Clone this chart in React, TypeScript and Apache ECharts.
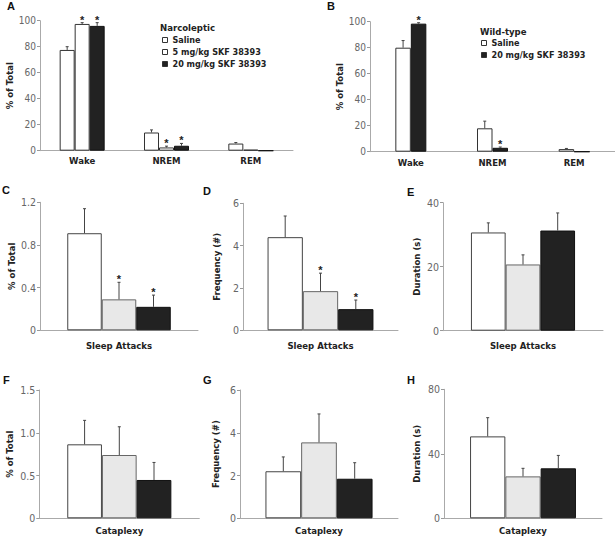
import React, { useEffect, useRef } from 'react';
import * as echarts from 'echarts';

const NARROW = '"Liberation Sans Narrow", "DejaVu Sans Condensed", "Arial Narrow", sans-serif';
const WIDE = '"Liberation Sans", Arial, sans-serif';

// ---------- Data ----------
const stateCategories = ['Wake', 'NREM', 'REM'];
const groupNames = ['Saline', '5 mg/kg SKF 38393', '20 mg/kg SKF 38393'];

// Panel A: narcoleptic
const narcSaline = [77.5, 14, 5.5];
const narcSalineErr = [2.5, 2, 0.8];
const narcSalineStar = [0, 0, 0];
const narc5 = [97.5, 2.5, 0.8];
const narc5Err = [1, 1, 0];
const narc5Star = [1, 1, 0];
const narc20 = [96, 3.8, 0];
const narc20Err = [2.5, 1.8, 0];
const narc20Star = [1, 1, 0];

// Panel B: wild-type
const wtSaline = [80, 18, 2];
const wtSalineErr = [5.5, 5.5, 0.5];
const wtSalineStar = [0, 0, 0];
const wt20 = [98.5, 3, 0];
const wt20Err = [0.7, 0.6, 0];
const wt20Star = [1, 1, 0];

const attackCategory = ['Sleep Attacks'];
const cataplexyCategory = ['Cataplexy'];

// Panels C-H: [saline, 5 mg/kg, 20 mg/kg]
const attackPercent = [0.91, 0.29, 0.22];
const attackPercentErr = [0.23, 0.16, 0.11];
const attackPercentStar = [0, 1, 1];
const attackFreq = [4.4, 1.85, 1.0];
const attackFreqErr = [1.0, 0.85, 0.43];
const attackFreqStar = [0, 1, 1];
const attackDur = [30.7, 20.7, 31.3];
const attackDurErr = [3, 3, 5.5];
const attackDurStar = [0, 0, 0];
const cataPercent = [0.865, 0.74, 0.448];
const cataPercentErr = [0.28, 0.33, 0.205];
const cataPercentStar = [0, 0, 0];
const cataFreq = [2.2, 3.55, 1.85];
const cataFreqErr = [0.67, 1.33, 0.75];
const cataFreqStar = [0, 0, 0];
const cataDur = [50.8, 26, 31];
const cataDurErr = [11.6, 5, 8];
const cataDurStar = [0, 0, 0];

// ---------- Styles ----------
const whiteStyle = { color: '#ffffff', borderColor: '#444', borderWidth: 1 };
const grayStyle = { color: '#e8e8e8', borderColor: '#666', borderWidth: 1 };
const blackStyle = { color: '#222222', borderColor: '#111', borderWidth: 1 };

type Group = { name: string; values: number[]; errs: number[]; stars: number[]; style: any };
type Panel = {
  grid: { left: number; top: number; width: number; height: number };
  cats: string[];
  max: number;
  interval: number;
  yName: string;
  nameGap: number;
  labelMargin: number;
  barWidth: number;
  groups: Group[];
  fmt?: (v: number) => string;
  tickSize: number;
};

export default function App() {
  const ref = useRef<HTMLDivElement>(null);

  useEffect(() => {
    if (!ref.current) return;
    const chart = echarts.init(ref.current, undefined, { renderer: 'svg' });

    const single = (prefix: string, vals: number[][], errs: number[][], stars: number[][]): Group[] =>
      [whiteStyle, grayStyle, blackStyle].map((st, i) => ({
        name: prefix + ' ' + groupNames[i],
        values: [vals[0][i]],
        errs: [errs[0][i]],
        stars: [stars[0][i]],
        style: st,
      }));

    const panels: Panel[] = [
      {
        grid: { left: 40, top: 20.7, width: 253, height: 130 },
        cats: stateCategories, max: 100, interval: 20, yName: '% of Total', nameGap: 21,
        labelMargin: 5, barWidth: 15, tickSize: 10,
        groups: [
          { name: groupNames[0], values: narcSaline, errs: narcSalineErr, stars: narcSalineStar, style: { ...whiteStyle, borderColor: '#333' } },
          { name: groupNames[1], values: narc5, errs: narc5Err, stars: narc5Star, style: { ...whiteStyle, borderColor: '#333' } },
          { name: groupNames[2], values: narc20, errs: narc20Err, stars: narc20Star, style: blackStyle },
        ],
      },
      {
        grid: { left: 370, top: 21.7, width: 252, height: 130 },
        cats: stateCategories, max: 100, interval: 20, yName: '% of Total', nameGap: 22,
        labelMargin: 6, barWidth: 15.5, tickSize: 10,
        groups: [
          { name: groupNames[0], values: wtSaline, errs: wtSalineErr, stars: wtSalineStar, style: { ...whiteStyle, borderColor: '#333' } },
          { name: groupNames[2], values: wt20, errs: wt20Err, stars: wt20Star, style: blackStyle },
        ],
      },
      {
        grid: { left: 40, top: 202.3, width: 158, height: 128 },
        cats: attackCategory, max: 1.2, interval: 0.4, yName: '% of Total', nameGap: 24,
        labelMargin: 10, barWidth: 34.5, tickSize: 10.5,
        fmt: (v) => (v === 0 ? '0' : v.toFixed(1)),
        groups: single('C', [attackPercent], [attackPercentErr], [attackPercentStar]),
      },
      {
        grid: { left: 243, top: 203.3, width: 155, height: 127 },
        cats: attackCategory, max: 6, interval: 2, yName: 'Frequency (#)', nameGap: 22,
        labelMargin: 10, barWidth: 35.3, tickSize: 10.5,
        groups: single('D', [attackFreq], [attackFreqErr], [attackFreqStar]),
      },
      {
        grid: { left: 443, top: 202.7, width: 160, height: 128 },
        cats: attackCategory, max: 40, interval: 20, yName: 'Duration (s)', nameGap: 22,
        labelMargin: 10, barWidth: 34.7, tickSize: 10.5,
        groups: single('E', [attackDur], [attackDurErr], [attackDurStar]),
      },
      {
        grid: { left: 39.3, top: 390, width: 160, height: 128.3 },
        cats: cataplexyCategory, max: 1.5, interval: 0.5, yName: '% of Total', nameGap: 25,
        labelMargin: 7, barWidth: 34.7, tickSize: 10.5,
        fmt: (v) => (v === 0 ? '0' : v.toFixed(1)),
        groups: single('F', [cataPercent], [cataPercentErr], [cataPercentStar]),
      },
      {
        grid: { left: 240, top: 390, width: 158, height: 128.3 },
        cats: cataplexyCategory, max: 6, interval: 2, yName: 'Frequency (#)', nameGap: 20,
        labelMargin: 7, barWidth: 35.7, tickSize: 10.5,
        groups: single('G', [cataFreq], [cataFreqErr], [cataFreqStar]),
      },
      {
        grid: { left: 444, top: 389.3, width: 158, height: 129 },
        cats: cataplexyCategory, max: 80, interval: 40, yName: 'Duration (s)', nameGap: 23,
        labelMargin: 7, barWidth: 35.3, tickSize: 10.5,
        groups: single('H', [cataDur], [cataDurErr], [cataDurStar]),
      },
    ];

    const grid: any[] = [];
    const xAxis: any[] = [];
    const yAxis: any[] = [];
    const series: any[] = [];

    panels.forEach((p, gi) => {
      grid.push({ ...p.grid, containLabel: false });
      xAxis.push({
        type: 'category',
        gridIndex: gi,
        data: p.cats,
        axisLine: { show: true, lineStyle: { color: '#aaaaaa', width: 1 } },
        axisTick: { show: false },
        axisLabel: {
          margin: p.labelMargin,
          fontFamily: NARROW,
          fontWeight: 'bold',
          fontSize: 9.5,
          color: '#222',
        },
        splitLine: { show: false },
      });
      yAxis.push({
        type: 'value',
        gridIndex: gi,
        min: 0,
        max: p.max,
        interval: p.interval,
        name: p.yName,
        nameLocation: 'middle',
        nameRotate: 90,
        nameGap: p.nameGap,
        nameTextStyle: { fontFamily: NARROW, fontWeight: 'bold', fontSize: 9.5, color: '#222' },
        axisLine: { show: true, lineStyle: { color: '#aaaaaa', width: 1 } },
        axisTick: { show: true, length: 3, lineStyle: { color: '#999999' } },
        axisLabel: {
          margin: 4,
          fontFamily: NARROW,
          fontSize: p.tickSize,
          color: '#666',
          formatter: p.fmt ? p.fmt : undefined,
        },
        splitLine: { show: false },
      });
      const n = p.groups.length;
      p.groups.forEach((g, k) => {
        series.push({
          type: 'bar',
          name: g.name,
          xAxisIndex: gi,
          yAxisIndex: gi,
          barWidth: p.barWidth,
          barGap: '0%',
          data: g.values,
          itemStyle: g.style,
          silent: true,
        });
        const offset = (k - (n - 1) / 2) * p.barWidth;
        series.push({
          type: 'custom',
          name: g.name + ' err',
          xAxisIndex: gi,
          yAxisIndex: gi,
          silent: true,
          z: 10,
          data: g.values.map((v, i) => [i, v, g.errs[i], g.stars[i]]),
          renderItem: (params: any, api: any) => {
            const idx = api.value(0);
            const v = api.value(1);
            const e = api.value(2);
            const s = api.value(3);
            const base = api.coord([idx, v]);
            const top = api.coord([idx, v + e]);
            const x = base[0] + offset;
            const children: any[] = [];
            if (e > 0) {
              children.push({
                type: 'line',
                shape: { x1: x, y1: base[1], x2: x, y2: top[1] },
                style: { stroke: '#444', lineWidth: 1 },
              });
              children.push({
                type: 'line',
                shape: { x1: x - 1.5, y1: top[1], x2: x + 1.5, y2: top[1] },
                style: { stroke: '#444', lineWidth: 1 },
              });
            }
            if (s) {
              children.push({
                type: 'text',
                x: x,
                y: top[1] - 3,
                style: {
                  text: '*',
                  fill: '#222',
                  font: 'bold 11px ' + WIDE,
                  align: 'center',
                  verticalAlign: 'middle',
                },
              });
            }
            return { type: 'group', children };
          },
        });
      });
    });

    const legendText = { fontFamily: NARROW, fontWeight: 'bold', fontSize: 9, color: '#222', lineHeight: 12 };
    const letters = [
      ['A', 7, 6], ['B', 327, 6], ['C', 2, 190], ['D', 203, 191],
      ['E', 407, 192], ['F', 3, 380], ['G', 203, 380], ['H', 407, 380],
    ];

    chart.setOption({
      animation: false,
      backgroundColor: '#ffffff',
      grid,
      xAxis,
      yAxis,
      series,
      legend: [
        {
          data: groupNames,
          left: 162,
          top: 34,
          orient: 'vertical',
          icon: 'rect',
          itemWidth: 5,
          itemHeight: 5,
          itemGap: 0,
          padding: 0,
          selectedMode: false,
          itemStyle: { borderColor: '#333', borderWidth: 1 },
          textStyle: legendText,
        },
        {
          data: [groupNames[0], groupNames[2]],
          left: 481,
          top: 37,
          orient: 'vertical',
          icon: 'rect',
          itemWidth: 5,
          itemHeight: 5,
          itemGap: 0,
          padding: 0,
          selectedMode: false,
          itemStyle: { borderColor: '#333', borderWidth: 1 },
          textStyle: legendText,
        },
      ],
      graphic: [
        ...letters.map(([t, x, y]) => ({
          type: 'text',
          left: x,
          top: (y as number) - 6,
          style: { text: t, font: 'bold 11px ' + WIDE, fill: '#111' },
        })),
        {
          type: 'text',
          left: 160,
          top: 22,
          style: { text: 'Narcoleptic', font: 'bold 9.5px ' + NARROW, fill: '#222' },
        },
        {
          type: 'text',
          left: 480,
          top: 26,
          style: { text: 'Wild-type', font: 'bold 9.5px ' + NARROW, fill: '#222' },
        },
      ],
    });

    return () => chart.dispose();
  }, []);

  return (
    <div
      ref={ref}
      style={{ position: 'absolute', left: 0, top: 0, width: 615, height: 537, background: '#fff' }}
    />
  );
}
